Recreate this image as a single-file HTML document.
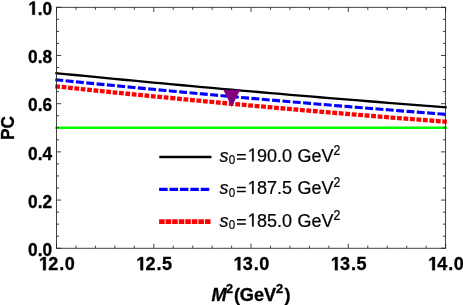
<!DOCTYPE html>
<html><head><meta charset="utf-8"><title>PC plot</title>
<style>html,body{margin:0;padding:0;background:#fff;}svg{display:block;will-change:transform;}text{font-family:"Liberation Sans",sans-serif;}</style>
</head><body>
<svg width="463" height="305" viewBox="0 0 463 305">
<rect x="0" y="0" width="463" height="305" fill="#ffffff"/>
<line x1="55.3" y1="127.78" x2="446.8" y2="127.78" stroke="#00ff00" stroke-width="2.4"/>
<polyline points="55.30,86.30 58.18,86.61 61.06,86.91 63.95,87.21 66.83,87.52 69.71,87.82 72.59,88.12 75.48,88.42 78.36,88.72 81.24,89.02 84.12,89.32 87.01,89.62 89.89,89.92 92.77,90.22 95.66,90.51 98.54,90.81 101.42,91.11 104.30,91.40 107.19,91.69 110.07,91.99 112.95,92.28 115.83,92.57 118.72,92.86 121.60,93.16 124.48,93.45 127.36,93.74 130.25,94.02 133.13,94.31 136.01,94.60 138.89,94.89 141.77,95.17 144.66,95.46 147.54,95.74 150.42,96.03 153.31,96.31 156.19,96.60 159.07,96.88 161.95,97.16 164.83,97.44 167.72,97.72 170.60,98.00" fill="none" stroke="#ff0000" stroke-width="4.3" stroke-dasharray="4.75 1.657"/>
<polyline points="170.60,98.00 177.50,98.67 184.41,99.33 191.31,99.99 198.22,100.65 205.12,101.30 212.03,101.95 218.94,102.60 225.84,103.24 232.75,103.88 239.65,104.51 246.56,105.14 253.46,105.77 260.37,106.39 267.27,107.01 274.18,107.63 281.08,108.24 287.99,108.85 294.89,109.45 301.80,110.05 308.70,110.65 315.61,111.24 322.51,111.83 329.42,112.42 336.32,113.00 343.23,113.58 350.13,114.15 357.04,114.72 363.94,115.29 370.85,115.85 377.75,116.41 384.65,116.97 391.56,117.52 398.47,118.07 405.37,118.61 412.28,119.15 419.18,119.69 426.09,120.22 432.99,120.75 439.89,121.28 446.80,121.80" fill="none" stroke="#ff0000" stroke-width="4.3" stroke-dasharray="4.83 1.664"/>
<polyline points="55.30,79.75 65.09,80.74 74.88,81.72 84.66,82.69 94.45,83.66 104.24,84.62 114.03,85.57 123.81,86.52 133.60,87.46 143.39,88.40 153.18,89.33 162.96,90.26 172.75,91.17 182.54,92.09 192.32,92.99 202.11,93.89 211.90,94.79 221.69,95.67 231.48,96.56 241.26,97.43 251.05,98.30 260.84,99.16 270.62,100.02 280.41,100.87 290.20,101.72 299.99,102.55 309.77,103.39 319.56,104.21 329.35,105.03 339.14,105.85 348.93,106.66 358.71,107.46 368.50,108.25 378.29,109.04 388.07,109.83 397.86,110.60 407.65,111.38 417.44,112.14 427.23,112.90 437.01,113.65 446.80,114.40" fill="none" stroke="#0000ff" stroke-width="3.1" stroke-dasharray="7.95 2.42"/>
<polyline points="55.30,73.05 65.09,74.03 74.88,75.00 84.66,75.96 94.45,76.92 104.24,77.87 114.03,78.81 123.81,79.75 133.60,80.68 143.39,81.61 153.18,82.53 162.96,83.45 172.75,84.35 182.54,85.26 192.32,86.15 202.11,87.04 211.90,87.93 221.69,88.80 231.48,89.68 241.26,90.54 251.05,91.40 260.84,92.25 270.62,93.10 280.41,93.94 290.20,94.78 299.99,95.60 309.77,96.43 319.56,97.24 329.35,98.05 339.14,98.86 348.93,99.66 358.71,100.45 368.50,101.23 378.29,102.01 388.07,102.79 397.86,103.55 407.65,104.32 417.44,105.07 427.23,105.82 437.01,106.56 446.80,107.30" fill="none" stroke="#000000" stroke-width="2.3"/>
<polygon points="223.3,89.7 240.1,89.7 231.8,107.0" fill="#800080"/>
<rect x="56.5" y="7.3" width="389.10" height="240.95" fill="none" stroke="#222222" stroke-width="0.85"/>
<path d="M56.50 248.25 v-4.6 M56.50 7.3 v4.6 M75.95 248.25 v-2.6 M75.95 7.3 v2.6 M95.41 248.25 v-2.6 M95.41 7.3 v2.6 M114.87 248.25 v-2.6 M114.87 7.3 v2.6 M134.32 248.25 v-2.6 M134.32 7.3 v2.6 M153.78 248.25 v-4.6 M153.78 7.3 v4.6 M173.23 248.25 v-2.6 M173.23 7.3 v2.6 M192.68 248.25 v-2.6 M192.68 7.3 v2.6 M212.14 248.25 v-2.6 M212.14 7.3 v2.6 M231.60 248.25 v-2.6 M231.60 7.3 v2.6 M251.05 248.25 v-4.6 M251.05 7.3 v4.6 M270.50 248.25 v-2.6 M270.50 7.3 v2.6 M289.96 248.25 v-2.6 M289.96 7.3 v2.6 M309.42 248.25 v-2.6 M309.42 7.3 v2.6 M328.87 248.25 v-2.6 M328.87 7.3 v2.6 M348.33 248.25 v-4.6 M348.33 7.3 v4.6 M367.78 248.25 v-2.6 M367.78 7.3 v2.6 M387.23 248.25 v-2.6 M387.23 7.3 v2.6 M406.69 248.25 v-2.6 M406.69 7.3 v2.6 M426.15 248.25 v-2.6 M426.15 7.3 v2.6 M445.60 248.25 v-4.6 M445.60 7.3 v4.6 M56.5 248.25 h4.6 M445.6 248.25 h-4.6 M56.5 236.20 h2.6 M445.6 236.20 h-2.6 M56.5 224.16 h2.6 M445.6 224.16 h-2.6 M56.5 212.11 h2.6 M445.6 212.11 h-2.6 M56.5 200.06 h4.6 M445.6 200.06 h-4.6 M56.5 188.01 h2.6 M445.6 188.01 h-2.6 M56.5 175.96 h2.6 M445.6 175.96 h-2.6 M56.5 163.92 h2.6 M445.6 163.92 h-2.6 M56.5 151.87 h4.6 M445.6 151.87 h-4.6 M56.5 139.82 h2.6 M445.6 139.82 h-2.6 M56.5 127.78 h2.6 M445.6 127.78 h-2.6 M56.5 115.73 h2.6 M445.6 115.73 h-2.6 M56.5 103.68 h4.6 M445.6 103.68 h-4.6 M56.5 91.63 h2.6 M445.6 91.63 h-2.6 M56.5 79.58 h2.6 M445.6 79.58 h-2.6 M56.5 67.54 h2.6 M445.6 67.54 h-2.6 M56.5 55.49 h4.6 M445.6 55.49 h-4.6 M56.5 43.44 h2.6 M445.6 43.44 h-2.6 M56.5 31.40 h2.6 M445.6 31.40 h-2.6 M56.5 19.35 h2.6 M445.6 19.35 h-2.6 M56.5 7.30 h4.6 M445.6 7.30 h-4.6" fill="none" stroke="#222222" stroke-width="0.85"/>
<g transform="translate(52.10,255.80) scale(1,1.105)" fill="#000" stroke="#000" stroke-width="0.3"><text x="-24.05 -14.43 -9.62" y="0" font-size="17.3" font-weight="bold">0.0</text></g>
<g transform="translate(52.10,207.76) scale(1,1.105)" fill="#000" stroke="#000" stroke-width="0.3"><text x="-24.05 -14.43 -9.62" y="0" font-size="17.3" font-weight="bold">0.2</text></g>
<g transform="translate(52.10,159.57) scale(1,1.105)" fill="#000" stroke="#000" stroke-width="0.3"><text x="-24.05 -14.43 -9.62" y="0" font-size="17.3" font-weight="bold">0.4</text></g>
<g transform="translate(52.10,111.08) scale(1,1.105)" fill="#000" stroke="#000" stroke-width="0.3"><text x="-24.05 -14.43 -9.62" y="0" font-size="17.3" font-weight="bold">0.6</text></g>
<g transform="translate(52.10,62.74) scale(1,1.105)" fill="#000" stroke="#000" stroke-width="0.3"><text x="-24.05 -14.43 -9.62" y="0" font-size="17.3" font-weight="bold">0.8</text></g>
<g transform="translate(52.10,14.70) scale(1,1.105)" fill="#000" stroke="#000" stroke-width="0.3"><text x="-14.43 -9.62" y="0" font-size="17.3" font-weight="bold">.0</text><path d="M-19.83 0.00 L-19.83 -9.88 L-22.61 -8.10 L-22.61 -9.97 L-19.63 -11.90 L-17.25 -11.90 L-17.25 0.00Z"/></g>
<g transform="translate(56.70,270.20) scale(1.045,1.105)" fill="#000" stroke="#000" stroke-width="0.3"><text x="-8.08 2.41 7.69" y="0" font-size="17.3" font-weight="bold">2.0</text><path d="M-12.99 0.00 L-12.99 -9.88 L-15.78 -8.10 L-15.78 -9.97 L-12.80 -11.90 L-10.42 -11.90 L-10.42 0.00Z"/></g>
<g transform="translate(153.97,270.20) scale(1.045,1.105)" fill="#000" stroke="#000" stroke-width="0.3"><text x="-8.08 2.41 7.69" y="0" font-size="17.3" font-weight="bold">2.5</text><path d="M-12.99 0.00 L-12.99 -9.88 L-15.78 -8.10 L-15.78 -9.97 L-12.80 -11.90 L-10.42 -11.90 L-10.42 0.00Z"/></g>
<g transform="translate(251.25,270.20) scale(1.045,1.105)" fill="#000" stroke="#000" stroke-width="0.3"><text x="-8.08 2.41 7.69" y="0" font-size="17.3" font-weight="bold">3.0</text><path d="M-12.99 0.00 L-12.99 -9.88 L-15.78 -8.10 L-15.78 -9.97 L-12.80 -11.90 L-10.42 -11.90 L-10.42 0.00Z"/></g>
<g transform="translate(348.53,270.20) scale(1.045,1.105)" fill="#000" stroke="#000" stroke-width="0.3"><text x="-8.08 2.41 7.69" y="0" font-size="17.3" font-weight="bold">3.5</text><path d="M-12.99 0.00 L-12.99 -9.88 L-15.78 -8.10 L-15.78 -9.97 L-12.80 -11.90 L-10.42 -11.90 L-10.42 0.00Z"/></g>
<g transform="translate(445.80,270.20) scale(1.045,1.105)" fill="#000" stroke="#000" stroke-width="0.3"><text x="-8.08 2.41 7.69" y="0" font-size="17.3" font-weight="bold">4.0</text><path d="M-12.99 0.00 L-12.99 -9.88 L-15.78 -8.10 L-15.78 -9.97 L-12.80 -11.90 L-10.42 -11.90 L-10.42 0.00Z"/></g>
<text transform="translate(14.0,128.0) rotate(-90) scale(1,1.105)" font-size="17.3" font-weight="bold" text-anchor="middle" fill="#000" stroke="#000" stroke-width="0.3">PC</text>
<text transform="translate(251,300.6) scale(1.05,1.105)" font-size="17.3" font-weight="bold" text-anchor="middle" fill="#000" stroke="#000" stroke-width="0.3"><tspan font-style="italic">M</tspan><tspan font-size="12.0" dy="-6.5" dx="-0.7">2</tspan><tspan dy="6.5" dx="1.0">(</tspan><tspan dx="-0.2">GeV</tspan><tspan font-size="12.3" dy="-6.5">2</tspan><tspan dy="6.5" dx="1.1">)</tspan></text>
<line x1="159.3" y1="157.05" x2="211.4" y2="157.05" stroke="#000" stroke-width="2.6"/>
<line x1="159.1" y1="189.3" x2="209.4" y2="189.3" stroke="#0000ff" stroke-width="3.2" stroke-dasharray="8.55 1.85"/>
<line x1="159.1" y1="221.7" x2="210.7" y2="221.7" stroke="#ff0000" stroke-width="4.8" stroke-dasharray="5.55 1.0"/>
<text transform="translate(219.5,161.50)" font-size="18" font-style="italic" fill="#000" stroke="#000" stroke-width="0.2">s</text>
<text transform="translate(228.8,164.20) scale(1,1.09)" font-size="11.6" fill="#000" stroke="#000" stroke-width="0.2">0</text>
<path d="M237.0 154.80h8.8M237.0 158.90h8.8" stroke="#000" stroke-width="1.5" fill="none"/>
<g transform="translate(247.00,161.50) scale(1,1.05)" fill="#000" stroke="#000" stroke-width="0.2"><text x="10.01 20.02 30.03 35.03" y="0" font-size="18">90.0</text><path d="M5.10 0.00 L5.10 -10.87 L2.30 -8.88 L2.30 -10.37 L5.23 -12.38 L6.69 -12.38 L6.69 0.00Z"/></g>
<text transform="translate(297.6,161.50) scale(1,1.02)" font-size="18" fill="#000" stroke="#000" stroke-width="0.2">GeV</text>
<text transform="translate(333.6,154.65) scale(1,1.16)" font-size="12.3" fill="#000" stroke="#000" stroke-width="0.2">2</text>
<text transform="translate(219.5,194.10)" font-size="18" font-style="italic" fill="#000" stroke="#000" stroke-width="0.2">s</text>
<text transform="translate(228.8,196.80) scale(1,1.09)" font-size="11.6" fill="#000" stroke="#000" stroke-width="0.2">0</text>
<path d="M237.0 187.40h8.8M237.0 191.50h8.8" stroke="#000" stroke-width="1.5" fill="none"/>
<g transform="translate(247.00,194.10) scale(1,1.05)" fill="#000" stroke="#000" stroke-width="0.2"><text x="10.01 20.02 30.03 35.03" y="0" font-size="18">87.5</text><path d="M5.10 0.00 L5.10 -10.87 L2.30 -8.88 L2.30 -10.37 L5.23 -12.38 L6.69 -12.38 L6.69 0.00Z"/></g>
<text transform="translate(297.6,194.10) scale(1,1.02)" font-size="18" fill="#000" stroke="#000" stroke-width="0.2">GeV</text>
<text transform="translate(333.6,187.25) scale(1,1.16)" font-size="12.3" fill="#000" stroke="#000" stroke-width="0.2">2</text>
<text transform="translate(219.5,226.50)" font-size="18" font-style="italic" fill="#000" stroke="#000" stroke-width="0.2">s</text>
<text transform="translate(228.8,229.20) scale(1,1.09)" font-size="11.6" fill="#000" stroke="#000" stroke-width="0.2">0</text>
<path d="M237.0 219.80h8.8M237.0 223.90h8.8" stroke="#000" stroke-width="1.5" fill="none"/>
<g transform="translate(247.00,226.50) scale(1,1.05)" fill="#000" stroke="#000" stroke-width="0.2"><text x="10.01 20.02 30.03 35.03" y="0" font-size="18">85.0</text><path d="M5.10 0.00 L5.10 -10.87 L2.30 -8.88 L2.30 -10.37 L5.23 -12.38 L6.69 -12.38 L6.69 0.00Z"/></g>
<text transform="translate(297.6,226.50) scale(1,1.02)" font-size="18" fill="#000" stroke="#000" stroke-width="0.2">GeV</text>
<text transform="translate(333.6,219.65) scale(1,1.16)" font-size="12.3" fill="#000" stroke="#000" stroke-width="0.2">2</text>
</svg>
</body></html>
